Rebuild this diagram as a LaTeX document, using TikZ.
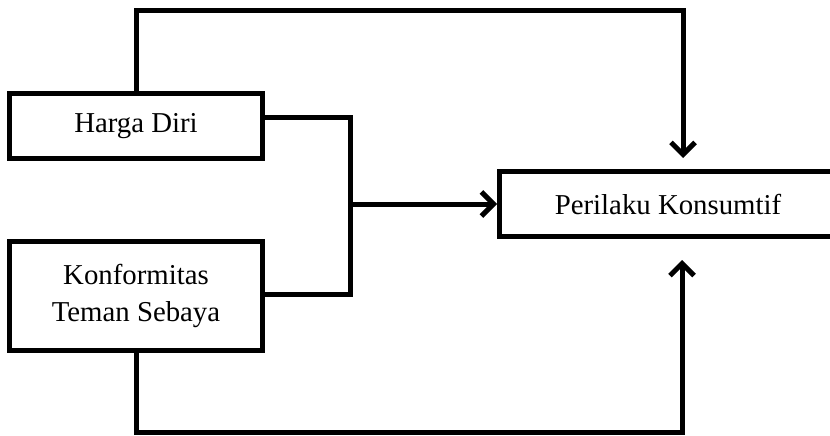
\documentclass[tikz,border=0pt]{standalone}
\usepackage{fontspec}
\setmainfont{Liberation Serif}
\usetikzlibrary{arrows.meta}

\tikzset{
  varbox/.style={draw=black, line width=5pt, fill=white, inner sep=0pt,
    align=center, font=\fontsize{28.8}{37}\selectfont},
  link/.style={draw=black, line width=5pt, line join=miter},
  arr/.style={link, -{Straight Barb[length=12pt, width=24pt, line width=5pt]}}
}

\begin{document}
\begin{tikzpicture}[x=1pt, y=-1pt]
  \useasboundingbox (0,0) rectangle (830,436);
  \clip (0,0) rectangle (830,436);

  % variables
  \node[varbox, minimum width=253pt, minimum height=65pt] (hd) at (136,126) {Harga Diri};
  \node[varbox, minimum width=253pt, minimum height=109pt] (kt) at (136,296)
    {Konformitas\\Teman Sebaya};
  \node[varbox, minimum width=340pt, minimum height=64.5pt] (pk) at (669.5,204)
    {\hspace{-3pt}Perilaku Konsumtif};

  % routing points
  \coordinate (topR) at (683,11);
  \coordinate (topTip) at (683,158);
  \coordinate (botR) at (682,432);
  \coordinate (botTip) at (682,260);
  \coordinate (brTop) at (350,117);
  \coordinate (brBot) at (350,294);

  % joint effect: bracket into the outcome
  \draw[link] (hd.east |- brTop) -- (brTop) -- (brBot) -- (kt.east |- brBot);
  \draw[arr] (brTop |- pk.west) -- (pk.west);

  % direct effect of Harga Diri
  \draw[arr] (hd.north) |- (topR) -- (topTip);

  % direct effect of Konformitas Teman Sebaya
  \draw[arr] (kt.south) |- (botR) -- (botTip);
\end{tikzpicture}
\end{document}
